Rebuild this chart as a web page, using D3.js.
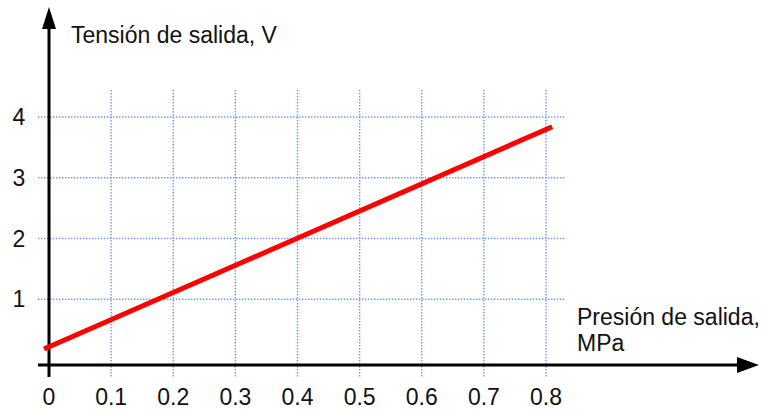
<!DOCTYPE html>
<html>
<head>
<meta charset="utf-8">
<script src="https://cdn.jsdelivr.net/npm/d3@7"></script>
<style>
  body { margin: 0; background: #fff; }
  text { font-family: "Liberation Sans", Arial, sans-serif; fill: #111; }
</style>
</head>
<body>
<svg id="chart" width="768" height="411"></svg>
<script>
// Sensor de presión: tensión de salida frente a presión

var xTicks = [0, 0.1, 0.2, 0.3, 0.4, 0.5, 0.6, 0.7, 0.8];
var xTickLabels = ["0", "0.1", "0.2", "0.3", "0.4", "0.5", "0.6", "0.7", "0.8"];
var yTicks = [1, 2, 3, 4];
var yTickLabels = ["1", "2", "3", "4"];

// endpoints of the red characteristic line
var pressure = [-0.008, 0.81];
var voltage = [0.18, 3.84];

var svg = d3.select('#chart');

var x = d3.scaleLinear().domain([0, 0.8]).range([49, 546]);
var y = d3.scaleLinear().domain([0, 4]).range([360, 117]);

var axisY = y(0) + 5;   // x axis drawn a little below zero
var axisX = x(0);

// grid
var grid = svg.append('g')
    .style('stroke', '#6b9bff')
    .style('stroke-width', 1.4)
    .style('stroke-dasharray', '1.4,1.6');

grid.selectAll('line.v')
    .data(xTicks.slice(1))
    .enter()
  .append('line')
    .attr('class', 'v')
    .attr('x1', d => x(d))
    .attr('x2', d => x(d))
    .attr('y1', 90)
    .attr('y2', axisY + 12);

grid.selectAll('line.h')
    .data(yTicks)
    .enter()
  .append('line')
    .attr('class', 'h')
    .attr('x1', axisX - 11)
    .attr('x2', 565)
    .attr('y1', d => y(d))
    .attr('y2', d => y(d));

// axes
svg.append('line')
    .attr('x1', axisX).attr('x2', axisX)
    .attr('y1', 26).attr('y2', axisY + 12)
    .style('stroke', 'black').style('stroke-width', 3);
svg.append('path')
    .attr('d', 'M' + axisX + ',7 L' + (axisX + 7) + ',29 L' + (axisX - 7) + ',29 Z')
    .style('fill', 'black');

svg.append('line')
    .attr('x1', axisX - 11).attr('x2', 740)
    .attr('y1', axisY).attr('y2', axisY)
    .style('stroke', 'black').style('stroke-width', 3);
svg.append('path')
    .attr('d', 'M759,' + axisY + ' L737,' + (axisY - 8) + ' L737,' + (axisY + 8) + ' Z')
    .style('fill', 'black');

// tick labels
svg.selectAll('text.xt')
    .data(xTicks)
    .enter()
  .append('text')
    .attr('class', 'xt')
    .attr('x', d => x(d))
    .attr('y', 405)
    .attr('text-anchor', 'middle')
    .attr('font-size', 23)
    .text((d, i) => xTickLabels[i]);

svg.selectAll('text.yt')
    .data(yTicks)
    .enter()
  .append('text')
    .attr('class', 'yt')
    .attr('x', 19)
    .attr('y', d => y(d) + 8)
    .attr('text-anchor', 'middle')
    .attr('font-size', 23)
    .text((d, i) => yTickLabels[i]);

// axis titles
svg.append('text')
    .attr('x', 71).attr('y', 43)
    .attr('font-size', 23)
    .text('Tensión de salida, V');

svg.append('text')
    .attr('x', 577).attr('y', 325)
    .attr('font-size', 23)
    .text('Presión de salida,');
svg.append('text')
    .attr('x', 577).attr('y', 351)
    .attr('font-size', 23)
    .text('MPa');

// characteristic line
var line = d3.line()
    .x(d => x(d[0]))
    .y(d => y(d[1]));

svg.append('path')
    .datum(d3.zip(pressure, voltage))
    .attr('d', line)
    .style('fill', 'none')
    .style('stroke', '#ff0000')
    .style('stroke-width', 5);
</script>
</body>
</html>
